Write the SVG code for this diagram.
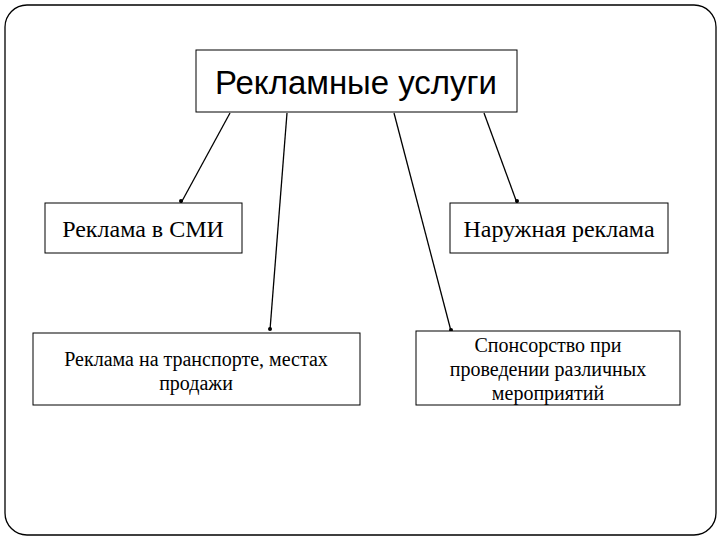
<svg xmlns="http://www.w3.org/2000/svg" width="720" height="540" viewBox="0 0 720 540">
<style>
.box{fill:#fff;stroke:#000;stroke-width:1}
.t{font-family:"Liberation Serif",serif;font-size:24px;fill:#000;text-anchor:middle}
.s{font-family:"Liberation Serif",serif;font-size:20px;fill:#000;text-anchor:middle}
.c line{stroke:#000;stroke-width:1.3}
.c circle{fill:#000}
</style>
<rect x="0" y="0" width="720" height="540" fill="#fff"/>
<rect x="5" y="5" width="711" height="530" rx="22" fill="#fff" stroke="#000" stroke-width="1.3"/>
<g class="c">
<line x1="230" y1="113" x2="181" y2="203"/><circle cx="181" cy="201" r="2"/>
<line x1="287" y1="113" x2="270" y2="330"/><circle cx="270" cy="329" r="2"/>
<line x1="394" y1="113" x2="451" y2="331"/><circle cx="451" cy="330" r="2"/>
<line x1="484" y1="113" x2="517" y2="203"/><circle cx="517" cy="201" r="2"/>
</g>
<g id="root"><rect class="box" x="196" y="50" width="321" height="62"/>
<text x="356" y="94" font-family="Liberation Sans Narrow,Liberation Sans,sans-serif" font-size="34" text-anchor="middle" textLength="282" lengthAdjust="spacingAndGlyphs">Рекламные услуги</text></g>
<g id="smi"><rect class="box" x="45" y="203" width="197" height="50"/><text class="t" x="143" y="237">Реклама в СМИ</text></g>
<g id="outdoor"><rect class="box" x="450" y="203" width="218" height="50"/><text class="t" x="559" y="237">Наружная реклама</text></g>
<g id="transport"><rect class="box" x="33" y="333" width="327" height="72"/><text class="s" x="196" y="366">Реклама на транспорте, местах</text><text class="s" x="196" y="390">продажи</text></g>
<g id="sponsor"><rect class="box" x="416" y="331" width="264" height="74"/><text class="s" x="548" y="352">Спонсорство при</text><text class="s" x="548" y="376">проведении различных</text><text class="s" x="548" y="400">мероприятий</text></g>
</svg>
